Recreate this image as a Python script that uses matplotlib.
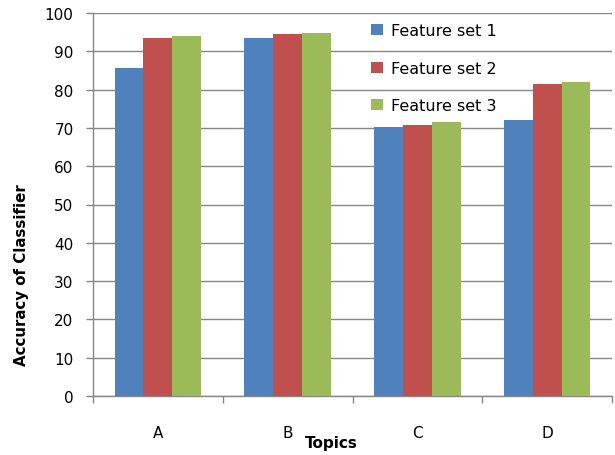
import numpy as np
import matplotlib
matplotlib.use("Agg")
import matplotlib.pyplot as plt

# data
topics = ["A", "B", "C", "D"]
series_names = ["Feature set 1", "Feature set 2", "Feature set 3"]
fs1 = [85.7, 93.6, 70.3, 72.0]
fs2 = [93.6, 94.4, 70.8, 81.5]
fs3 = [94.0, 94.9, 71.5, 81.9]
colors = ["#4F81BD", "#C0504D", "#9BBB59"]

plt.rcParams["font.family"] = "DejaVu Sans"
grey = "#868686"

fig = plt.figure(figsize=(6.15, 4.56), dpi=100)
ax = fig.add_axes([93 / 615, 59 / 456, 519 / 615, 383 / 456])

x = np.arange(len(topics))
w = 1 / 4.5
for i, (vals, name) in enumerate(zip([fs1, fs2, fs3], series_names)):
    ax.bar(x + (i - 1) * w, vals, width=w, color=colors[i], label=name, zorder=3)

ax.set_xlim(-0.5, len(topics) - 0.5)
ax.set_ylim(0, 100)
ax.set_yticks(range(0, 101, 10))
ax.grid(axis="y", color=grey, linewidth=1.0, zorder=0)

# category boundaries as ticks, labels in the middle
ax.set_xticks(np.arange(-0.5, len(topics), 1.0))
ax.set_xticklabels([])
ax.set_xticks(x, minor=True)
ax.set_xticklabels(topics, minor=True)
ax.tick_params(axis="x", which="major", length=5, width=1.0, color=grey)
ax.tick_params(axis="x", which="minor", length=0, pad=21, labelsize=11)
ax.tick_params(axis="y", length=5, width=1.0, color=grey, labelsize=11, pad=9)

for side in ["top", "right"]:
    ax.spines[side].set_visible(False)
for side in ["left", "bottom"]:
    ax.spines[side].set_color(grey)
    ax.spines[side].set_linewidth(1.0)

fig.text(22 / 615, 1 - 275 / 456, "Accuracy of Classifier", rotation=90,
         ha="center", va="center", fontsize=10.8, fontweight="bold")
fig.text(331 / 615, 1 - 444 / 456, "Topics", ha="center", va="center",
         fontsize=11, fontweight="bold")

ax.legend(loc="upper left", bbox_to_anchor=(365 / 615, 1 - 18 / 456),
          bbox_transform=fig.transFigure, frameon=False, fontsize=11.5,
          handlelength=0.7, handleheight=0.7, handletextpad=0.5,
          labelspacing=1.4, borderaxespad=0)

fig.savefig("out.png", dpi=100)
